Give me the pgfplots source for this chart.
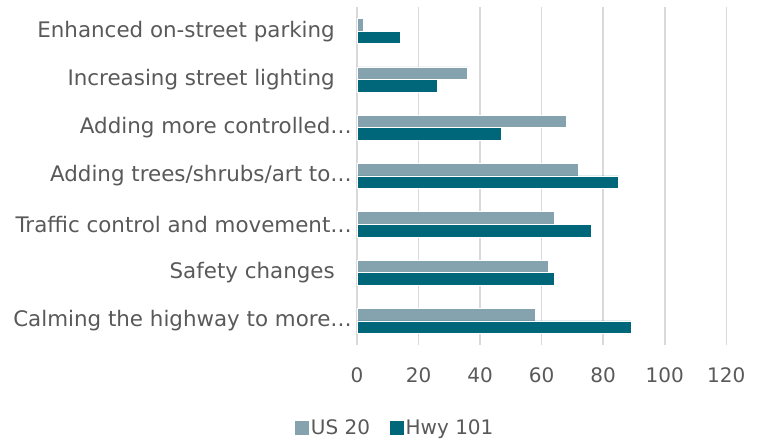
\documentclass[border=0pt]{standalone}
\usepackage{fontspec}
\setmainfont{DejaVu Sans}
\usepackage{pgfplots}
\pgfplotsset{compat=1.18}
\definecolor{usc}{HTML}{84A3AF}
\definecolor{hwyc}{HTML}{00677A}
\definecolor{txt}{HTML}{595959}
\definecolor{gridc}{HTML}{D9D9D9}
\newcommand{\tsp}{\rule{17bp}{0pt}}
\begin{document}
\begin{tikzpicture}
\path[use as bounding box] (0,0) rectangle (762bp,443bp);
\begin{axis}[
  at={(357bp,98bp)}, anchor=south west,
  scale only axis, width=369.3bp, height=338bp,
  xbar, bar width=0.26,
  xmin=0, xmax=120, ymin=-0.5, ymax=6.5,
  xtick={0,20,...,120},
  ytick={0,...,6},
  yticklabels={Calming the highway to more…, Safety changes\tsp, Traffic control and movement…, Adding trees/shrubs/art to…, Adding more controlled…, Increasing street lighting\tsp, Enhanced on-street parking\tsp},
  axis line style={draw=none},
  major tick length=0pt,
  xmajorgrids, grid style={gridc, line width=1.5bp},
  /pgf/number format/assume math mode=true,
  yticklabel style={font=\fontsize{21.4bp}{25bp}\selectfont, text=txt, inner sep=0pt, xshift=-5bp},
  xticklabel style={font=\fontsize{20bp}{24bp}\selectfont, text=txt, inner sep=0pt, yshift=-22bp},
  legend style={at={(0.104,-0.245)}, anchor=center, draw=none, fill=none,
    font=\fontsize{20bp}{24bp}\selectfont, text=txt, legend columns=2,
    nodes={inner sep=2.5bp},
    /tikz/every even column/.append style={column sep=17bp}},
]
\addplot[fill=usc, draw=white, line width=0.6bp, bar shift=0.13,
  legend image code/.code={\fill[usc] (0bp,-6.5bp) rectangle (13bp,6.5bp);}]
  coordinates {(58,0) (62,1) (64,2) (72,3) (68,4) (36,5) (2,6)};
\addplot[fill=hwyc, draw=white, line width=0.6bp, bar shift=-0.13,
  legend image code/.code={\fill[hwyc] (0bp,-6.5bp) rectangle (13bp,6.5bp);}]
  coordinates {(89,0) (64,1) (76,2) (85,3) (47,4) (26,5) (14,6)};
\legend{US 20, Hwy 101}
\end{axis}
\end{tikzpicture}
\end{document}
